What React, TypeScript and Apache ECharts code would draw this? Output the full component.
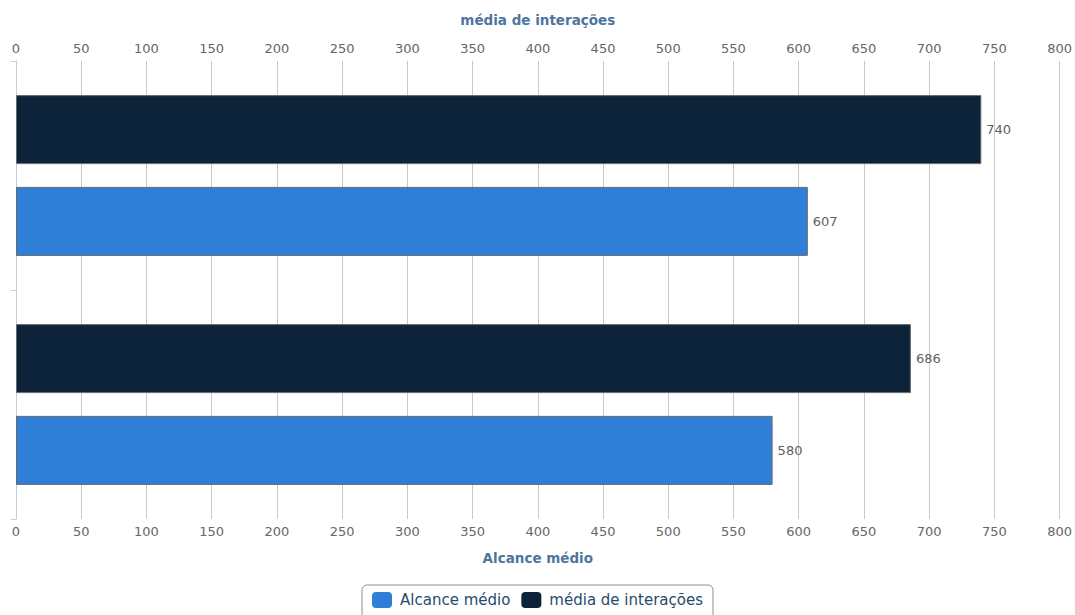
import React, { useEffect, useRef } from "react";
import * as echarts from "echarts";

const categories = ["Grupo 1", "Grupo 2"];
const alcanceMedio = [580, 607];
const mediaInteracoes = [686, 740];
const seriesNames = ["Alcance médio", "média de interações"];

const FONT = "DejaVu Sans";

export default function App() {
  const ref = useRef<HTMLDivElement>(null);
  useEffect(() => {
    const chart = echarts.init(ref.current!, null, { renderer: "svg" });
    const xAxisBase = {
      type: "value" as const,
      min: 0,
      max: 800,
      interval: 50,
      nameLocation: "middle" as const,
      nameTextStyle: { color: "#4d759e", fontSize: 13.5, fontWeight: "bold" as const, fontFamily: FONT },
      axisLine: { show: false },
      axisTick: { show: false },
      axisLabel: { color: "#666666", fontSize: 13, fontFamily: FONT, margin: 6 },
      splitLine: { show: true, lineStyle: { color: "#c8c8c8", width: 1 } },
    };
    const labelStyle = { show: true, position: "right" as const, distance: 5, color: "#606060", fontSize: 13, fontFamily: FONT };
    chart.setOption({
      animation: false,
      textStyle: { fontFamily: FONT },
      grid: { left: 16, right: 13, top: 61, bottom: 96, containLabel: false },
      xAxis: [
        { ...xAxisBase, position: "top", name: seriesNames[1], nameGap: 34 },
        { ...xAxisBase, position: "bottom", name: seriesNames[0], nameGap: 32, splitLine: { show: false } },
      ],
      yAxis: {
        type: "category",
        data: categories,
        axisLine: { show: true, lineStyle: { color: "#c0d0e0", width: 1 } },
        axisTick: { show: true, length: 5, lineStyle: { color: "#c0d0e0" } },
        axisLabel: { show: false },
        splitLine: { show: false },
      },
      legend: {
        top: 585,
        left: "center",
        itemWidth: 20,
        itemHeight: 16,
        itemGap: 11,
        padding: [7, 10, 12, 10],
        borderColor: "#909090",
        borderWidth: 1,
        borderRadius: 5,
        icon: "roundRect",
        itemStyle: { borderWidth: 0 },
        textStyle: { color: "#274b6d", fontSize: 15, fontFamily: FONT, padding: [0, 0, 0, 3] },
        data: seriesNames,
      },
      series: [
        {
          name: seriesNames[1],
          type: "bar",
          xAxisIndex: 0,
          data: mediaInteracoes,
          barWidth: 69,
          barGap: "33%",
          itemStyle: { color: "#0d233a", borderColor: "#6a6a6a", borderWidth: 1 },
          label: labelStyle,
        },
        {
          name: seriesNames[0],
          type: "bar",
          xAxisIndex: 0,
          data: alcanceMedio,
          barWidth: 69,
          barGap: "33%",
          itemStyle: { color: "#2f7ed8", borderColor: "#6a6a6a", borderWidth: 1 },
          label: labelStyle,
        },
      ],
    });
    return () => chart.dispose();
  }, []);
  return <div ref={ref} style={{ width: 1075, height: 615, position: "absolute", left: 0, top: 0 }} />;
}
